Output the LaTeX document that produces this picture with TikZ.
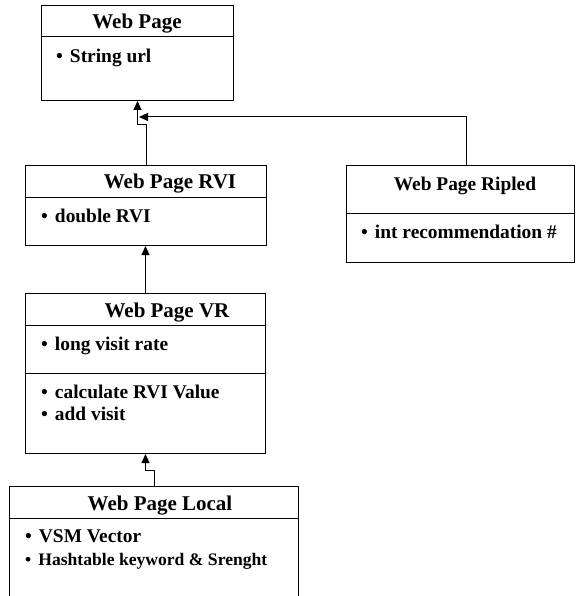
\documentclass[tikz,border=0pt]{standalone}
\usepackage{fontspec}
\setmainfont{Liberation Serif}
\usetikzlibrary{arrows.meta}
\tikzset{
  classbox/.style={draw, line width=1pt, anchor=north west, inner sep=0pt},
  title/.style={font=\fontsize{21}{24}\selectfont\bfseries, inner sep=0pt, anchor=base},
  entry/.style={font=\fontsize{19.4}{22}\selectfont\bfseries, anchor=base west, inner sep=0pt},
  link/.style={line width=1pt},
  inherit/.style={link, -{Triangle[width=8pt,length=9pt]}},
}
\newcommand{\itm}[1]{•\hspace{7pt}#1}
\begin{document}
\begin{tikzpicture}[x=1pt,y=-1pt]
\useasboundingbox (0,0) rectangle (576,596);
\clip (0,0) rectangle (576,596);
\fill[white] (0,0) rectangle (576,596);

% Web Page
\node[classbox, minimum width=192pt, minimum height=95pt] (wp) at (41,5) {};
\draw[link] (wp.north west) ++(0,32) -- ++(192,0);
\node[title] (wpT) at (137,29) {Web Page};
\node[entry] (wpA) at (56,63) {\itm{String url}};

% Web Page RVI
\node[classbox, minimum width=241pt, minimum height=80pt] (rvi) at (25,165) {};
\draw[link] (rvi.north west) ++(0,32) -- ++(241,0);
\node[title] (rviT) at (170,188) {Web Page RVI};
\node[entry] (rviA) at (41,222) {\itm{double RVI}};

% Web Page Ripled
\node[classbox, minimum width=228pt, minimum height=97pt] (rip) at (346,165) {};
\draw[link] (rip.north west) ++(0,48) -- ++(228,0);
\node[title, font=\fontsize{19.4}{22}\selectfont\bfseries] (ripT) at (465,190) {Web Page Ripled};
\node[entry] (ripA) at (361,238) {\itm{int recommendation \#}};

% Web Page VR
\node[classbox, minimum width=240pt, minimum height=160pt] (vr) at (25,293) {};
\draw[link] (vr.north west) ++(0,32) -- ++(240,0);
\draw[link] (vr.north west) ++(0,80) -- ++(240,0);
\node[title] (vrT) at (167,317) {Web Page VR};
\node[entry] (vrA) at (41,350) {\itm{long visit rate}};
\node[entry] (vrB) at (41,398) {\itm{calculate RVI Value}};
\node[entry] (vrC) at (41,420) {\itm{add visit}};

% Web Page Local
\node[classbox, minimum width=289pt, minimum height=130pt] (loc) at (9,486) {};
\draw[link] (loc.north west) ++(0,32) -- ++(289,0);
\node[title] (locT) at (160,510) {Web Page Local};
\node[entry] (locA) at (25,542) {\itm{VSM Vector}};
\node[entry, font=\fontsize{17.6}{20}\selectfont\bfseries] (locB) at (25,565) {\itm{Hashtable keyword \& Srenght}};

% inheritance links
\coordinate (hit) at (139,117);
\draw[inherit] (rvi.north) -- ++(0,-40) -| (wp.south);
\draw[inherit] ([xshift=6pt]rip.north) |- (hit);
\draw[inherit] (vr.north) -- (vr.north |- rvi.south);
\draw[inherit] (loc.north) -- ++(0,-16) -| (vr.south);
\end{tikzpicture}
\end{document}
